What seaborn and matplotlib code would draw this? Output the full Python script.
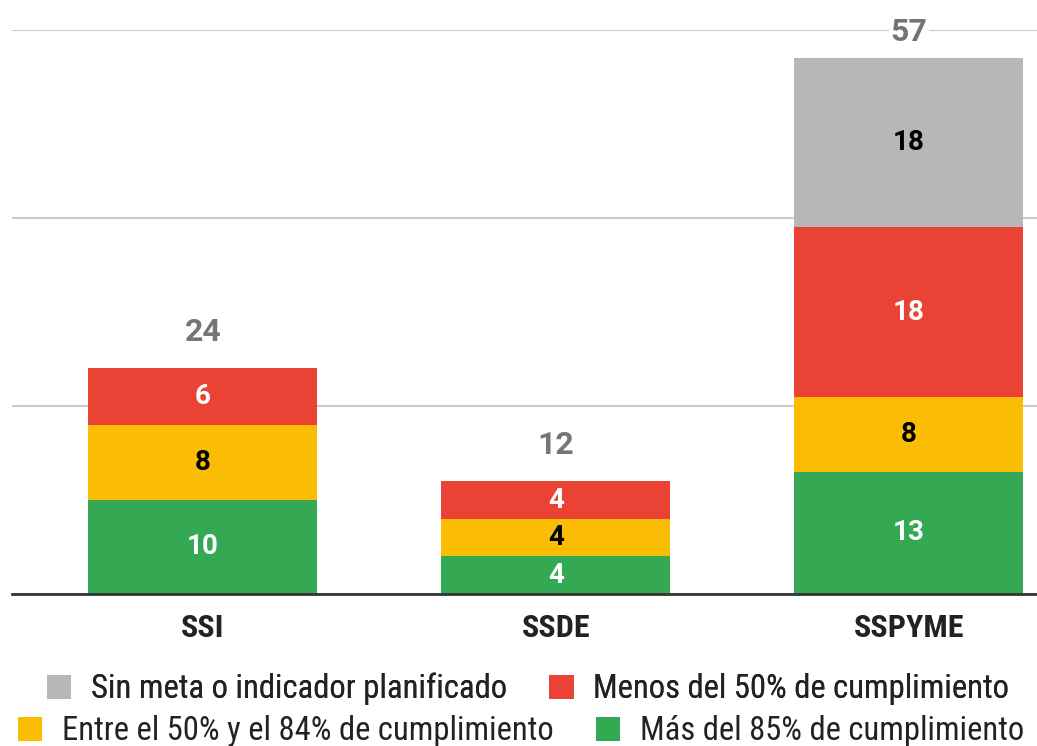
import numpy as np
import pandas as pd
import matplotlib
matplotlib.use("Agg")
import matplotlib.pyplot as plt
from matplotlib import font_manager
from matplotlib.patches import Patch
import seaborn as sns

# datos
categorias = ["SSI", "SSDE", "SSPYME"]
mas_85 = [10, 4, 13]
entre_50_84 = [8, 4, 8]
menos_50 = [6, 4, 18]
sin_meta = [0, 0, 18]

series = ["Sin meta o indicador planificado", "Menos del 50% de cumplimiento",
          "Entre el 50% y el 84% de cumplimiento", "Más del 85% de cumplimiento"]
colores = {"Sin meta o indicador planificado": "#b7b7b7",
           "Menos del 50% de cumplimiento": "#ea4335",
           "Entre el 50% y el 84% de cumplimiento": "#fbbc04",
           "Más del 85% de cumplimiento": "#34a853"}
color_texto = {"Sin meta o indicador planificado": "black",
               "Menos del 50% de cumplimiento": "white",
               "Entre el 50% y el 84% de cumplimiento": "black",
               "Más del 85% de cumplimiento": "white"}

sns.set_style("white")
familias = {f.name for f in font_manager.fontManager.ttflist}
fuente = "Roboto Condensed" if "Roboto Condensed" in familias else "Roboto"
plt.rcParams['font.family'] = [fuente, "Roboto", "DejaVu Sans"]

df = pd.DataFrame({"cat": categorias,
                   "Más del 85% de cumplimiento": mas_85,
                   "Entre el 50% y el 84% de cumplimiento": entre_50_84,
                   "Menos del 50% de cumplimiento": menos_50,
                   "Sin meta o indicador planificado": sin_meta})

# acumulados (de abajo hacia arriba)
orden_abajo = series[::-1]
acum = df[orden_abajo].cumsum(axis=1)
df_total = df[orden_abajo].sum(axis=1)

fig = plt.figure(figsize=(10.37, 7.46), dpi=100)
ax = fig.add_axes([12 / 1037, 1 - 594 / 746, 1 - 12 / 1037, (594 - 30) / 746])

# barras apiladas: primero la mas alta, luego las de abajo encima
for s in series:
    sns.barplot(x=df["cat"], y=acum[s], color=colores[s], width=0.649,
                ax=ax, saturation=1, zorder=2, linewidth=0, edgecolor="none")

ymax = 60
# etiquetas de cada segmento
for i in range(len(categorias)):
    base = 0
    for s in orden_abajo:
        v = df[s][i]
        if v > 0:
            ax.text(i, base + v / 2, str(v), ha="center", va="center",
                    fontsize=20, fontweight="bold", color=color_texto[s],
                    family=["Roboto", "DejaVu Sans"], zorder=5)
        base += v
    y_tot = min(df_total[i] + 3.9, ymax - 0.2)
    ax.text(i, y_tot, str(df_total[i]), ha="center", va="center",
            fontsize=23, fontweight="bold", color="#757575",
            family=["Roboto", "DejaVu Sans"], zorder=5,
            bbox=dict(boxstyle="square,pad=0.05", fc="white", ec="none"))

ax.set_ylim(0, ymax)
ax.set_xlim(-0.541, 2.363)
ax.set_yticks([0, 20, 40, 60])
ax.set_yticklabels([])
ax.tick_params(axis="y", length=0)
ax.tick_params(axis="x", length=0, pad=14)
ax.grid(axis="y", color="#cccccc", linewidth=1.5)
ax.set_axisbelow(True)
for lado in ["top", "right", "left"]:
    ax.spines[lado].set_visible(False)
ax.spines["bottom"].set_color("#333333")
ax.spines["bottom"].set_linewidth(2)
ax.set_xlabel("")
ax.set_ylabel("")
for t in ax.get_xticklabels():
    t.set_fontsize(23)
    t.set_fontweight("bold")
    t.set_color("#222222")

# leyenda en dos filas centradas
def fila(nombres, y, x):
    handles = [Patch(facecolor=colores[n], edgecolor="none", label=n) for n in nombres]
    leg = fig.legend(handles=handles, loc="center", bbox_to_anchor=(x, y), ncol=2,
                     frameon=False, fontsize=23.5, handlelength=0.75, handleheight=0.75,
                     handletextpad=0.6, columnspacing=1.3, borderpad=0, borderaxespad=0)
    for t in leg.get_texts():
        t.set_color("#222222")
    return leg

leg1 = fila(series[:2], 1 - 689 / 746, 528 / 1037)
fig.add_artist(leg1)
fila(series[2:], 1 - 731 / 746, 521 / 1037)

fig.savefig("out.png", dpi=100, facecolor="white")
